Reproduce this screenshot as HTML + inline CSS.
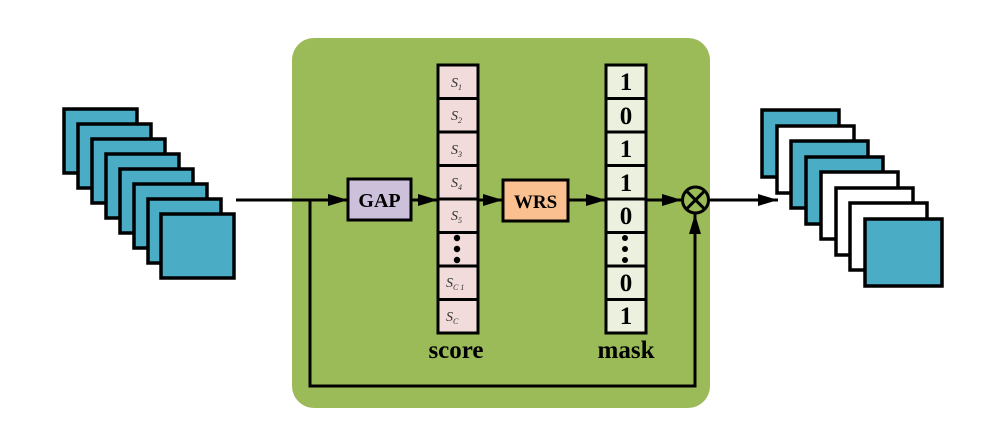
<!DOCTYPE html>
<html><head><meta charset="utf-8"><style>body{margin:0;background:#fff} svg text{font-family:"Liberation Serif",serif}</style></head><body>
<svg width="985" height="428" xmlns="http://www.w3.org/2000/svg">
<defs>
<marker id="b" viewBox="0 0 20 12" markerWidth="20" markerHeight="12" refX="20" refY="6" orient="auto" markerUnits="userSpaceOnUse"><path d="M0,0 L20,6 L0,12 z"/></marker></defs>
<rect x="292" y="38" width="418" height="370" rx="22" fill="#9bbb59"/>
<g stroke="#000" stroke-width="3.5" fill="#4bacc6">
<rect x="64" y="109" width="73" height="64"/>
<rect x="78" y="124" width="73" height="64"/>
<rect x="92" y="139" width="73" height="64"/>
<rect x="106" y="154" width="73" height="64"/>
<rect x="120" y="169" width="73" height="64"/>
<rect x="134" y="184" width="73" height="64"/>
<rect x="148" y="199" width="73" height="64"/>
<rect x="161" y="214" width="73" height="64"/>
</g>
<g stroke="#000" stroke-width="3.5">
<rect x="762" y="110" width="77" height="67" fill="#4bacc6"/>
<rect x="777" y="126" width="77" height="67" fill="#fff"/>
<rect x="791" y="141" width="77" height="67" fill="#4bacc6"/>
<rect x="806" y="157" width="77" height="67" fill="#4bacc6"/>
<rect x="821" y="172" width="77" height="67" fill="#fff"/>
<rect x="836" y="188" width="77" height="67" fill="#fff"/>
<rect x="850" y="203" width="77" height="67" fill="#fff"/>
<rect x="865" y="219" width="77" height="67" fill="#4bacc6"/>
</g>
<g stroke="#000" stroke-width="3" fill="none">
<line x1="236" y1="200" x2="348" y2="200" marker-end="url(#b)"/>
<polyline points="310,200 310,386 695,386 695,214" marker-end="url(#b)"/>
<line x1="411" y1="200" x2="438" y2="200" marker-end="url(#b)"/>
<line x1="478" y1="200" x2="503" y2="200" marker-end="url(#b)"/>
<line x1="568" y1="200" x2="606" y2="200" marker-end="url(#b)"/>
<line x1="646" y1="200" x2="682" y2="200" marker-end="url(#b)"/>
<line x1="709" y1="200" x2="778" y2="200" marker-end="url(#b)"/>
<circle cx="695.5" cy="200" r="13"/>
<line x1="686.3" y1="190.8" x2="704.7" y2="209.2"/>
<line x1="704.7" y1="190.8" x2="686.3" y2="209.2"/>
</g>
<rect x="348" y="179" width="63" height="41" fill="#ccc0da" stroke="#000" stroke-width="3"/>
<text x="379.5" y="207" font-size="20" font-weight="bold" text-anchor="middle">GAP</text>
<rect x="503" y="180" width="65" height="41" fill="#fac090" stroke="#000" stroke-width="3"/>
<text x="535.5" y="208" font-size="19" font-weight="bold" text-anchor="middle">WRS</text>
<g stroke="#000" stroke-width="3" fill="#f2dcdb">
<rect x="438" y="65" width="40" height="33.5"/><rect x="438" y="98.5" width="40" height="33.5"/>
<rect x="438" y="132" width="40" height="33.5"/><rect x="438" y="165.5" width="40" height="33.5"/>
<rect x="438" y="199" width="40" height="33.5"/><rect x="438" y="232.5" width="40" height="33.5"/>
<rect x="438" y="266" width="40" height="33.5"/><rect x="438" y="299.5" width="40" height="33.5"/>
</g>
<g stroke="#000" stroke-width="3" fill="#ebf1de">
<rect x="606" y="65" width="40" height="33.5"/><rect x="606" y="98.5" width="40" height="33.5"/>
<rect x="606" y="132" width="40" height="33.5"/><rect x="606" y="165.5" width="40" height="33.5"/>
<rect x="606" y="199" width="40" height="33.5"/><rect x="606" y="232.5" width="40" height="33.5"/>
<rect x="606" y="266" width="40" height="33.5"/><rect x="606" y="299.5" width="40" height="33.5"/>
</g>
<g font-size="14" font-style="italic" fill="#333">
<text x="451" y="87">S<tspan font-size="8" dy="3">1</tspan></text>
<text x="451" y="120">S<tspan font-size="8" dy="3">2</tspan></text>
<text x="451" y="154">S<tspan font-size="8" dy="3">3</tspan></text>
<text x="451" y="187">S<tspan font-size="8" dy="3">4</tspan></text>
<text x="451" y="220">S<tspan font-size="8" dy="3">5</tspan></text>
<text x="446" y="287">S<tspan font-size="8" dy="3">C  1</tspan></text>
<text x="446" y="321">S<tspan font-size="8" dy="3">C</tspan></text>
</g>
<g fill="#000"><circle cx="457" cy="238" r="3.2"/><circle cx="457" cy="249" r="3.2"/><circle cx="457" cy="260" r="3.2"/>
<circle cx="625" cy="238" r="3"/><circle cx="625" cy="249" r="3"/><circle cx="625" cy="260" r="3"/></g>
<g font-size="25" font-weight="bold" text-anchor="middle">
<text x="626" y="90">1</text><text x="626" y="124">0</text><text x="626" y="157">1</text><text x="626" y="191">1</text>
<text x="626" y="224">0</text><text x="626" y="291">0</text><text x="626" y="324">1</text>
</g>
<text x="456" y="358" font-size="25" font-weight="bold" text-anchor="middle">score</text>
<text x="626" y="358" font-size="25" font-weight="bold" text-anchor="middle">mask</text>
</svg>
</body></html>
